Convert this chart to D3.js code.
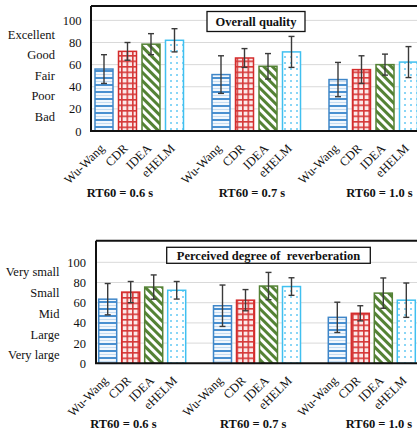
<!DOCTYPE html>
<html>
<head>
<meta charset="utf-8">
<script src="https://cdn.jsdelivr.net/npm/d3@7"></script>
<style>
  body { margin: 0; background: #fff; }
  svg { display: block; font-family: "Liberation Serif", "Times New Roman", serif; }
</style>
</head>
<body>
<svg width="417" height="435"></svg>
<script>
// data
var methods = ["Wu-Wang", "CDR", "IDEA", "eHELM"];
var rt60 = ["RT60 = 0.6 s", "RT60 = 0.7 s", "RT60 = 1.0 s"];
var yTicks = [0, 20, 40, 60, 80, 100];

var qualityWords = ["Excellent", "Good", "Fair", "Poor", "Bad"];
var qualityMean = [[56, 72, 78.5, 82], [51, 66, 58.5, 71.5], [46.5, 55.5, 60, 62.3]];
var qualityErr  = [[13, 8, 9.5, 10.5], [17, 8.5, 11.5, 14], [15.5, 12.5, 9.5, 14]];

var reverbWords = ["Very small", "Small", "Mid", "Large", "Very large"];
var reverbMean = [[63.5, 70.5, 75.5, 72.3], [57, 62.5, 76.5, 76], [45.5, 49.5, 69.5, 62.5]];
var reverbErr  = [[15.5, 10.5, 12, 8.7], [20.5, 10.5, 13.5, 8.7], [15, 7.5, 15, 17]];

var stroke = {"Wu-Wang": "#3F86C8", "CDR": "#D42C2C", "IDEA": "#548235", "eHELM": "#40C0F0"};

var svg = d3.select("svg");
var defs = svg.append("defs");

// hatch patterns, one per method
var p = defs.append("pattern").attr("id", "pat-Wu-Wang").attr("patternUnits", "userSpaceOnUse")
  .attr("width", 7).attr("height", 7);
p.append("rect").attr("width", 7).attr("height", 7).attr("fill", "#F3F8FD");
p.append("rect").attr("y", 0).attr("width", 7).attr("height", 2).attr("fill", "#4A90D0");
p.append("rect").attr("y", 4).attr("width", 7).attr("height", 1).attr("fill", "#C5DCF1");

p = defs.append("pattern").attr("id", "pat-CDR").attr("patternUnits", "userSpaceOnUse")
  .attr("width", 5.5).attr("height", 5.5);
p.append("rect").attr("width", 5.5).attr("height", 5.5).attr("fill", "#FBEAEA");
p.append("rect").attr("x", 0).attr("width", 1.6).attr("height", 5.5).attr("fill", "#D63A3A");
p.append("rect").attr("y", 0).attr("width", 5.5).attr("height", 1.6).attr("fill", "#D63A3A");

p = defs.append("pattern").attr("id", "pat-IDEA").attr("patternUnits", "userSpaceOnUse")
  .attr("width", 6).attr("height", 6).attr("patternTransform", "rotate(-45)");
p.append("rect").attr("width", 6).attr("height", 6).attr("fill", "#fff");
p.append("rect").attr("x", 0).attr("width", 3).attr("height", 6).attr("fill", "#548235");

p = defs.append("pattern").attr("id", "pat-eHELM").attr("patternUnits", "userSpaceOnUse")
  .attr("width", 6).attr("height", 6);
p.append("rect").attr("width", 6).attr("height", 6).attr("fill", "#fff");
p.append("rect").attr("x", 2).attr("y", 2).attr("width", 2).attr("height", 2).attr("fill", "#8AD6F6");

function drawPanel(cfg) {
  var g = svg.append("g");

  var y = d3.scaleLinear().domain([0, cfg.yMax]).range([cfg.bottom, cfg.top]);
  var x0 = d3.scaleBand().domain(rt60).range([cfg.left, cfg.left + 3 * cfg.groupStep]);
  var x1 = d3.scaleBand().domain(methods)
    .range([cfg.inset, cfg.inset + 3 * cfg.barStep + cfg.barW])
    .paddingInner((cfg.barStep - cfg.barW) / cfg.barStep);

  // grid
  g.selectAll(".grid").data(yTicks.filter(function(d) { return d > 0; }))
    .enter().append("line")
    .attr("x1", cfg.left).attr("x2", 430)
    .attr("y1", function(d) { return y(d); }).attr("y2", function(d) { return y(d); })
    .attr("stroke", "#D9D9D9").attr("stroke-width", 1);

  // frame
  g.append("line").attr("x1", cfg.left).attr("x2", 430).attr("y1", cfg.top).attr("y2", cfg.top)
    .attr("stroke", "#111").attr("stroke-width", 2);
  g.append("line").attr("x1", cfg.left).attr("x2", cfg.left).attr("y1", cfg.top).attr("y2", cfg.bottom)
    .attr("stroke", "#111").attr("stroke-width", 2);

  // bars
  var rows = [];
  rt60.forEach(function(grp, gi) {
    methods.forEach(function(m, mi) {
      rows.push({grp: grp, m: m, v: cfg.mean[gi][mi], e: cfg.err[gi][mi]});
    });
  });

  g.selectAll(".bar").data(rows).enter().append("rect")
    .attr("x", function(d) { return x0(d.grp) + x1(d.m); })
    .attr("y", function(d) { return y(d.v); })
    .attr("width", x1.bandwidth())
    .attr("height", function(d) { return cfg.bottom - y(d.v); })
    .attr("fill", function(d) { return "url(#pat-" + d.m + ")"; })
    .attr("stroke", function(d) { return stroke[d.m]; })
    .attr("stroke-width", 1.5);

  // error bars
  var eb = g.selectAll(".err").data(rows).enter().append("g")
    .attr("stroke", "#3A3A3A").attr("stroke-width", 1.4);
  function cx(d) { return x0(d.grp) + x1(d.m) + x1.bandwidth() / 2; }
  eb.append("line")
    .attr("x1", cx).attr("x2", cx)
    .attr("y1", function(d) { return y(d.v + d.e); })
    .attr("y2", function(d) { return y(d.v - d.e); });
  eb.append("line")
    .attr("x1", function(d) { return cx(d) - 3; }).attr("x2", function(d) { return cx(d) + 3; })
    .attr("y1", function(d) { return y(d.v + d.e); }).attr("y2", function(d) { return y(d.v + d.e); });
  eb.append("line")
    .attr("x1", function(d) { return cx(d) - 3; }).attr("x2", function(d) { return cx(d) + 3; })
    .attr("y1", function(d) { return y(d.v - d.e); }).attr("y2", function(d) { return y(d.v - d.e); });

  // x axis line
  g.append("line").attr("x1", cfg.left - 1).attr("x2", 430).attr("y1", cfg.bottom).attr("y2", cfg.bottom)
    .attr("stroke", "#111").attr("stroke-width", 2);

  // y axis numbers
  var yAxis = g.append("g").attr("transform", "translate(" + cfg.left + ",0)")
    .call(d3.axisLeft(y).tickValues(yTicks).tickSize(0).tickPadding(cfg.numPad));
  yAxis.select(".domain").remove();
  yAxis.selectAll("text").attr("font-size", "12.5px").attr("font-family", "Liberation Serif").attr("fill", "#111");

  // rating words
  var yw = d3.scalePoint().domain(cfg.words).range([cfg.wordTop, cfg.wordBottom]);
  g.selectAll(".word").data(cfg.words).enter().append("text")
    .attr("x", cfg.wordRight).attr("y", function(d) { return yw(d); })
    .attr("dy", "0.35em").attr("text-anchor", "end")
    .attr("font-size", "12.5px").attr("fill", "#111")
    .text(function(d) { return d; });

  // method labels, rotated
  g.selectAll(".mlab").data(rows).enter().append("text")
    .attr("transform", function(d) { return "translate(" + (cx(d) - 2) + "," + (cfg.bottom + 15) + ") rotate(-45)"; })
    .attr("text-anchor", "end").attr("dy", "0.35em")
    .attr("font-size", "12.5px").attr("fill", "#111")
    .text(function(d) { return d.m; });

  // group labels
  g.selectAll(".glab").data(rt60).enter().append("text")
    .attr("x", function(d, i) { return x0(d) + x0.bandwidth() / 2 + cfg.gShift[i]; })
    .attr("y", cfg.gLabelY)
    .attr("text-anchor", "middle").attr("font-weight", "bold")
    .attr("font-size", "12.5px").attr("fill", "#111")
    .text(function(d) { return d; });

  // title box
  g.append("rect").attr("x", cfg.box[0]).attr("y", cfg.box[1]).attr("width", cfg.box[2]).attr("height", cfg.box[3])
    .attr("fill", "#fff").attr("stroke", "#111").attr("stroke-width", 1.3);
  g.append("text").attr("x", cfg.box[0] + cfg.box[2] / 2).attr("y", cfg.box[1] + cfg.box[3] / 2)
    .attr("dy", "0.35em").attr("text-anchor", "middle").attr("font-weight", "bold")
    .attr("font-size", "12.5px").attr("fill", "#111").attr("xml:space", "preserve")
    .text(cfg.title);
}

drawPanel({
  left: 91, top: 6, bottom: 131, yMax: 113,
  groupStep: 117, inset: 4, barStep: 23.5, barW: 18,
  mean: qualityMean, err: qualityErr,
  words: qualityWords, wordRight: 55, wordTop: 34.3, wordBottom: 116.7,
  numPad: 9.5, gLabelY: 197, gShift: [-29.5, -14.5, -4],
  box: [207, 11.5, 98, 20], title: "Overall quality"
});

drawPanel({
  left: 96, top: 240.7, bottom: 363.3, yMax: 121.4,
  groupStep: 114.8, inset: 2.7, barStep: 23, barW: 18,
  mean: reverbMean, err: reverbErr,
  words: reverbWords, wordRight: 59.5, wordTop: 271.7, wordBottom: 355,
  numPad: 10, gLabelY: 427.5, gShift: [-30, -15, -4],
  box: [166.7, 247.3, 203.6, 16], title: "Perceived degree of  reverberation"
});
</script>
</body>
</html>
